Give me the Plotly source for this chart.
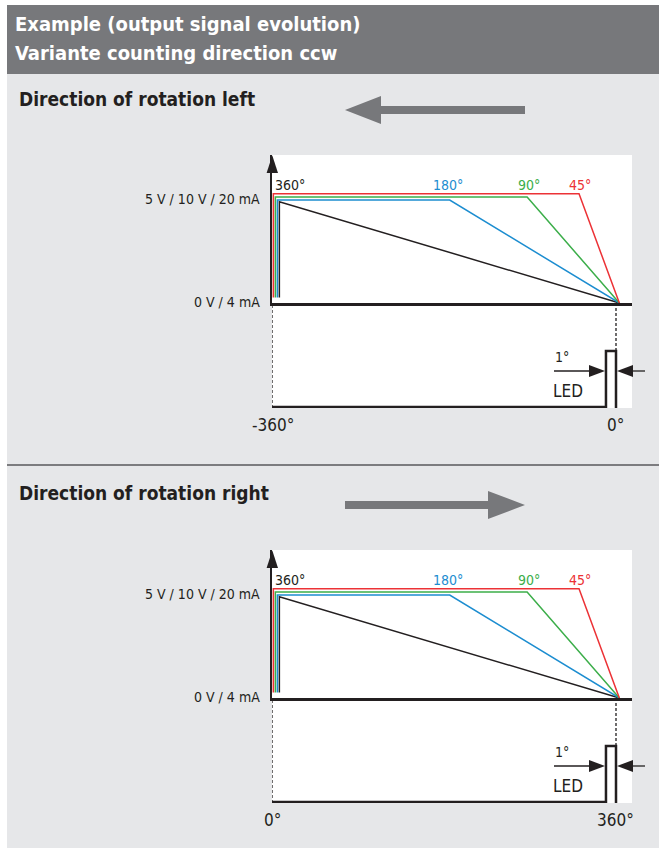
import plotly.graph_objects as go

W, H = 659, 851

# ---------------- data ----------------
title_lines = ["Example (output signal evolution)", "Variante counting direction ccw"]
panel_titles = ["Direction of rotation left", "Direction of rotation right"]
range_labels = ["360°", "180°", "90°", "45°"]
level_labels = ["5 V / 10 V / 20 mA", "0 V / 4 mA"]
end_labels_left = ["-360°", "0°"]
end_labels_right = ["0°", "360°"]
led_label = "LED"
led_width_label = "1°"

# panel 1 : rotation left (angle in degrees, level: 0 = 0 V/4 mA, 1 = 5 V/10 V/20 mA)
left_angles_360 = [-352.3, -352.3, 3.5]
left_levels_360 = [0.05, 0.927, 0.0]
left_angles_180 = [-354.4, -354.4, -174.0, 3.5]
left_levels_180 = [0.05, 0.942, 0.942, 0.0]
left_angles_90 = [-356.5, -356.5, -93.0, 3.5]
left_levels_90 = [0.05, 0.970, 0.970, 0.0]
left_angles_45 = [-358.6, -358.6, -38.7, 3.5]
left_levels_45 = [0.05, 1.0, 1.0, 0.0]

# panel 2 : rotation right
right_angles_360 = [7.7, 7.7, 363.5]
right_levels_360 = [0.05, 0.927, 0.0]
right_angles_180 = [5.6, 5.6, 186.0, 363.5]
right_levels_180 = [0.05, 0.942, 0.942, 0.0]
right_angles_90 = [3.5, 3.5, 267.0, 363.5]
right_levels_90 = [0.05, 0.970, 0.970, 0.0]
right_angles_45 = [1.4, 1.4, 321.3, 363.5]
right_levels_45 = [0.05, 1.0, 1.0, 0.0]

# LED output pulse
led_angles_left = [-360, -10.5, -10.5, 0, 0]
led_angles_right = [0, 349.5, 349.5, 360, 360]
led_levels = [0, 0, 1, 1, -0.04]

guide_angles_left = [-360, 0]
guide_angles_right = [0, 360]

# ---------------- styling ----------------
NARROW = "Liberation Sans Narrow, DejaVu Sans Condensed, Arial Narrow, sans-serif"
C_RED, C_GREEN, C_BLUE, C_BLACK = "#ec3236", "#3cae4a", "#1c8dd0", "#231f20"
C_HEAD = "#77787b"
C_BG = "#e6e7e9"


def X(px):
    return px / W


def Y(py):
    return 1 - py / H


S = (616 - 272) / 360.0          # px per degree
PX0, PX1 = 272, 632
SPAN = (PX1 - PX0) / S
SIG0, SIGU, TOP = 303, 109.3, 155
LEDB, LED0, LEDU = 408, 407, 56

fig = go.Figure()
shapes = []
annotations = []

# background
shapes.append(dict(type="rect", xref="paper", yref="paper", x0=X(7), x1=X(659), y0=Y(848), y1=Y(74),
                   fillcolor=C_BG, line_width=0, layer="below"))
shapes.append(dict(type="rect", xref="paper", yref="paper", x0=X(7), x1=X(659), y0=Y(74), y1=Y(5),
                   fillcolor=C_HEAD, line_width=0, layer="below"))
shapes.append(dict(type="line", xref="paper", yref="paper", x0=X(7), x1=X(659), y0=Y(465), y1=Y(465),
                   line=dict(color="#58595b", width=1.5), layer="below"))

for i, t in enumerate(title_lines):
    annotations.append(dict(text="<b>%s</b>" % t, x=X(13), y=Y([24, 53][i]), xref="paper", yref="paper",
                            xanchor="left", yanchor="middle", showarrow=False,
                            font=dict(family=NARROW, size=20, color="white")))


def poly(points):
    d = "M " + " L ".join("%.5f,%.5f" % (X(a), Y(b)) for a, b in points) + " Z"
    return d


panels = [
    dict(off=0, xa="x", ys="y", yl="y2", a0=-360,
         sig=[(left_angles_360, left_levels_360, C_BLACK), (left_angles_180, left_levels_180, C_BLUE),
              (left_angles_90, left_levels_90, C_GREEN), (left_angles_45, left_levels_45, C_RED)],
         led=led_angles_left, guides=guide_angles_left, ends=end_labels_left, title_y=99, right=False),
    dict(off=395, xa="x2", ys="y3", yl="y4", a0=0,
         sig=[(right_angles_360, right_levels_360, C_BLACK), (right_angles_180, right_levels_180, C_BLUE),
              (right_angles_90, right_levels_90, C_GREEN), (right_angles_45, right_levels_45, C_RED)],
         led=led_angles_right, guides=guide_angles_right, ends=end_labels_right, title_y=493, right=True),
]

range_colors = [C_BLACK, C_BLUE, C_GREEN, C_RED]
range_label_px = [290, 447.5, 529, 580]

for k, p in enumerate(panels):
    off = p["off"]
    # white plot area
    shapes.append(dict(type="rect", xref="paper", yref="paper", x0=X(PX0), x1=X(PX1),
                       y0=Y(LEDB + off), y1=Y(TOP + off), fillcolor="white", line_width=0, layer="below"))
    # signals
    for ang, lev, col in p["sig"]:
        fig.add_trace(go.Scatter(x=ang, y=lev, xaxis=p["xa"], yaxis=p["ys"], mode="lines",
                                 line=dict(color=col, width=1.5), cliponaxis=False,
                                 hoverinfo="skip", showlegend=False))
    # LED pulse
    fig.add_trace(go.Scatter(x=p["led"], y=led_levels, xaxis=p["xa"], yaxis=p["yl"], mode="lines",
                             line=dict(color=C_BLACK, width=2.5), cliponaxis=False,
                             hoverinfo="skip", showlegend=False))
    # dashed guides
    led_top = (LED0 - SIG0) / LEDU
    shapes.append(dict(type="line", xref=p["xa"], yref=p["yl"] + " domain", x0=p["guides"][0], x1=p["guides"][0],
                       y0=0, y1=1, line=dict(color=C_BLACK, width=1.3, dash="3px,2px")))
    shapes.append(dict(type="line", xref=p["xa"], yref=p["yl"], x0=p["guides"][1], x1=p["guides"][1],
                       y0=1, y1=led_top, line=dict(color=C_BLACK, width=1.3, dash="3px,2px")))
    # axes
    xname = "xaxis" if k == 0 else "xaxis2"
    ysname = "yaxis" if k == 0 else "yaxis3"
    ylname = "yaxis2" if k == 0 else "yaxis4"
    fig.update_layout(**{
        xname: dict(domain=[X(PX0), X(PX1)], range=[p["a0"], p["a0"] + SPAN], anchor=p["ys"],
                    showline=True, linecolor=C_BLACK, linewidth=2.5, showgrid=False, zeroline=False,
                    showticklabels=False, ticks="", fixedrange=True),
        ysname: dict(domain=[Y(SIG0 + off), Y(TOP + off)], range=[0, (SIG0 - TOP) / SIGU], anchor=p["xa"],
                     showline=True, linecolor=C_BLACK, linewidth=1.5, showgrid=False, zeroline=False,
                     showticklabels=False, ticks="", fixedrange=True),
        ylname: dict(domain=[Y(LEDB + off), Y(SIG0 + off)],
                     range=[-(LEDB - LED0) / LEDU, (LED0 - SIG0) / LEDU], anchor=p["xa"],
                     showline=False, showgrid=False, zeroline=False, showticklabels=False, ticks="",
                     fixedrange=True),
    })
    # y axis arrow head
    shapes.append(dict(type="path", xref="paper", yref="paper", layer="above",
                       path=poly([(272.3, 155.5 + off), (278, 173 + off), (266.6, 173 + off)]),
                       fillcolor=C_BLACK, line_width=0))
    # LED width arrows
    shapes.append(dict(type="line", xref="paper", yref="paper", x0=X(554), x1=X(592), y0=Y(371 + off),
                       y1=Y(371 + off), line=dict(color=C_BLACK, width=1.3)))
    shapes.append(dict(type="path", xref="paper", yref="paper",
                       path=poly([(605, 371 + off), (589, 365 + off), (589, 377 + off)]),
                       fillcolor=C_BLACK, line_width=0))
    shapes.append(dict(type="line", xref="paper", yref="paper", x0=X(630), x1=X(645), y0=Y(371 + off),
                       y1=Y(371 + off), line=dict(color=C_BLACK, width=1.3)))
    shapes.append(dict(type="path", xref="paper", yref="paper",
                       path=poly([(617, 371 + off), (633, 365 + off), (633, 377 + off)]),
                       fillcolor=C_BLACK, line_width=0))
    # rotation direction arrow
    cy = 110 if k == 0 else 505
    if not p["right"]:
        pts = [(525, cy - 4), (381, cy - 4), (381, cy - 14), (345, cy), (381, cy + 14), (381, cy + 4), (525, cy + 4)]
    else:
        pts = [(345, cy - 4), (488, cy - 4), (488, cy - 14), (525, cy), (488, cy + 14), (488, cy + 4), (345, cy + 4)]
    shapes.append(dict(type="path", xref="paper", yref="paper", path=poly(pts),
                       fillcolor=C_HEAD, line_width=0))

    # texts
    annotations.append(dict(text="<b>%s</b>" % panel_titles[k], x=X(17), y=Y(p["title_y"]),
                            xref="paper", yref="paper", xanchor="left", yanchor="middle", showarrow=False,
                            font=dict(family=NARROW, size=19, color=C_BLACK)))
    for lbl, ly in zip(level_labels, [199, 302]):
        annotations.append(dict(text=lbl, x=X(262), y=Y(ly + off), xref="paper", yref="paper",
                                xanchor="right", yanchor="middle", showarrow=False,
                                font=dict(family=NARROW, size=14, color=C_BLACK)))
    for lbl, lx, col in zip(range_labels, range_label_px, range_colors):
        annotations.append(dict(text=lbl, x=X(lx), y=Y(185 + off), xref="paper", yref="paper",
                                xanchor="center", yanchor="middle", showarrow=False,
                                font=dict(family=NARROW, size=14, color=col)))
    annotations.append(dict(text=led_width_label, x=X(562), y=Y(357 + off), xref="paper", yref="paper",
                            xanchor="center", yanchor="middle", showarrow=False,
                            font=dict(family=NARROW, size=14, color=C_BLACK)))
    annotations.append(dict(text=led_label, x=X(568), y=Y(391 + off), xref="paper", yref="paper",
                            xanchor="center", yanchor="middle", showarrow=False,
                            font=dict(family=NARROW, size=17, color=C_BLACK)))
    for lbl, lx in zip(p["ends"], [272.5, 615]):
        annotations.append(dict(text=lbl, x=X(lx), y=Y(425 + off), xref="paper", yref="paper",
                                xanchor="center", yanchor="middle", showarrow=False,
                                font=dict(family=NARROW, size=17, color=C_BLACK)))

fig.update_layout(width=W, height=H, margin=dict(l=0, r=0, t=0, b=0),
                  paper_bgcolor="white", plot_bgcolor="rgba(0,0,0,0)",
                  shapes=shapes, annotations=annotations, showlegend=False)

fig.write_html("out.html", config=dict(displayModeBar=False),
               post_script="document.body.style.margin='0px';document.body.style.padding='0px';")
